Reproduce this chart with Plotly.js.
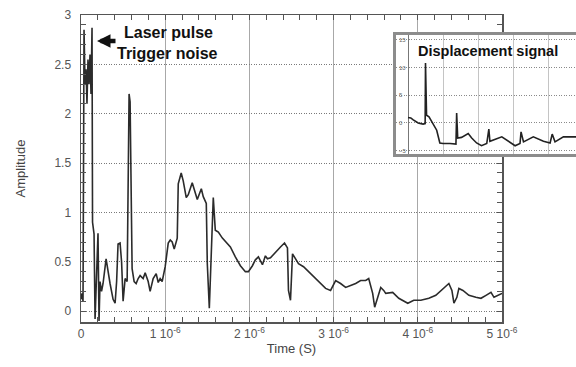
<!DOCTYPE html>
<html>
<head>
<meta charset="utf-8">
<script src="https://cdn.plot.ly/plotly-3.0.1.min.js"></script>
<style>html,body{margin:0;padding:0;background:#fff;}#chart{width:576px;height:367px;}</style>
</head>
<body>
<div id="chart"></div>
<script>
// Main signal: time in microseconds, amplitude
const timeUs = [0,0.012,0.024,0.036,0.048,0.060,0.071,0.083,0.095,0.107,0.119,0.131,0.137,0.149,0.155,0.167,0.179,0.190,0.202,0.214,0.226,0.244,0.262,0.298,0.321,0.345,0.381,0.405,0.423,0.440,0.464,0.482,0.500,0.524,0.548,0.560,0.571,0.583,0.595,0.607,0.631,0.655,0.679,0.702,0.738,0.762,0.798,0.821,0.857,0.893,0.917,0.940,0.964,1.000,1.036,1.060,1.083,1.107,1.143,1.155,1.190,1.214,1.250,1.274,1.321,1.357,1.381,1.429,1.452,1.488,1.500,1.524,1.548,1.571,1.595,1.631,1.679,1.714,1.774,1.833,1.893,1.952,1.988,2.036,2.071,2.107,2.155,2.190,2.214,2.250,2.310,2.369,2.417,2.452,2.464,2.488,2.512,2.536,2.583,2.643,2.702,2.762,2.845,2.905,2.964,3.024,3.083,3.143,3.202,3.262,3.321,3.381,3.417,3.464,3.488,3.524,3.560,3.595,3.619,3.702,3.774,3.881,3.952,4.036,4.131,4.214,4.274,4.333,4.369,4.405,4.429,4.464,4.488,4.536,4.607,4.690,4.750,4.810,4.869,4.905,4.964,5.000];
const amplitude = [0.12,0.18,0.10,2.85,2.30,2.45,2.10,2.55,2.30,2.60,2.20,2.87,0.90,0.80,0.78,-0.08,0.30,0.55,0.79,-0.10,0.30,0.20,0.28,0.53,0.40,0.28,0.12,0.08,0.30,0.68,0.69,0.50,0.10,0.33,0.30,1.20,2.20,2.12,1.47,0.43,0.30,0.28,0.33,0.36,0.33,0.39,0.30,0.20,0.33,0.38,0.29,0.33,0.30,0.45,0.69,0.72,0.70,0.63,0.74,1.29,1.40,1.32,1.15,1.18,1.30,1.19,1.13,1.24,1.16,1.09,0.48,0.03,0.60,1.15,0.82,0.80,0.74,0.71,0.65,0.55,0.46,0.40,0.40,0.46,0.52,0.55,0.47,0.56,0.53,0.54,0.60,0.65,0.69,0.64,0.21,0.11,0.58,0.55,0.48,0.45,0.40,0.35,0.28,0.23,0.21,0.31,0.28,0.24,0.26,0.28,0.31,0.31,0.33,0.18,0.04,0.14,0.24,0.21,0.18,0.19,0.13,0.08,0.11,0.11,0.13,0.16,0.21,0.26,0.28,0.21,0.08,0.14,0.23,0.21,0.16,0.14,0.13,0.16,0.19,0.14,0.16,0.18];

// Inset: displacement signal
const dispX = [0,0.08,0.14,0.29,0.43,0.49,0.50,0.51,0.53,0.60,0.71,0.82,0.91,1.00,1.20,1.37,1.39,1.42,1.53,1.72,1.82,1.96,2.10,2.25,2.31,2.34,2.68,2.91,3.06,3.20,3.23,3.30,3.58,3.87,4.06,4.12,4.20,4.44,4.72,4.80];
const dispY = [1.0,0.9,0.6,0.0,-0.2,-0.1,10.8,8.1,1.4,1.1,0.0,-1.3,-3.6,-3.7,-3.7,-3.8,1.8,-2.7,-2.6,-1.9,-2.7,-3.6,-4.1,-3.7,-1.1,-3.3,-2.5,-3.5,-4.1,-3.7,-1.6,-3.4,-2.5,-3.3,-3.6,-2.0,-3.4,-2.5,-2.4,-2.5];

const xTickVals = [0,1,2,3,4,5];
const xTickText = ['0','1 10<sup>-6</sup>','2 10<sup>-6</sup>','3 10<sup>-6</sup>','4 10<sup>-6</sup>','5 10<sup>-6</sup>'];
const yTickVals = [0,0.5,1,1.5,2,2.5,3];
const yTickText = ['0','0.5','1','1.5','2','2.5','3'];
const insetYTicks = [-5,0,5,10,15];
const insetXGrid = [1,2,3,4];

const traces = [
  {x: timeUs.map(t => t * 1e-6), y: amplitude, type: 'scatter', mode: 'lines',
   line: {color: '#2b2b2b', width: 1.6}, xaxis: 'x', yaxis: 'y', hoverinfo: 'skip'},
  {x: dispX, y: dispY, type: 'scatter', mode: 'lines',
   line: {color: '#222', width: 1.6}, xaxis: 'x2', yaxis: 'y2', hoverinfo: 'skip'}
];

const PW = 495, PH = 307, ML = 81, MT = 15;
function px(v){ return (v - ML) / PW; }
function py(v){ return (MT + PH - v) / PH; }

const layout = {
  width: 576, height: 367,
  margin: {l: ML, r: 0, t: MT, b: 45},
  paper_bgcolor: '#ffffff', plot_bgcolor: '#ffffff',
  showlegend: false,
  font: {family: 'Liberation Sans, Arial, sans-serif', color: '#444', size: 12},
  xaxis: {
    domain: [0, 421/495], range: [0, 5e-6],
    tickvals: xTickVals.map(v => v * 1e-6), ticktext: xTickText,
    ticks: 'inside', ticklen: 5, tickcolor: '#555',
    minor: {dtick: 0.2e-6, ticks: 'inside', ticklen: 5, tickcolor: '#555', showgrid: false},
    showline: true, linecolor: '#555', linewidth: 1.5, mirror: 'ticks',
    showgrid: true, gridcolor: '#a8a8a8', gridwidth: 1, griddash: 'solid',
    zeroline: false, tickfont: {size: 12, color: '#555'},
    title: {text: 'Time (S)', font: {size: 13, color: '#444'}, standoff: 4}
  },
  yaxis: {
    range: [-0.11, 3.0],
    tickvals: yTickVals, ticktext: yTickText,
    ticks: 'inside', ticklen: 5, tickcolor: '#555',
    minor: {dtick: 0.1, ticks: 'inside', ticklen: 5, tickcolor: '#555', showgrid: false},
    showline: true, linecolor: '#555', linewidth: 1.5, mirror: 'ticks',
    showgrid: true, gridcolor: '#7a7a7a', gridwidth: 1, griddash: '1px,1.5px',
    zeroline: false, ticklabelstandoff: 6, tickfont: {size: 12, color: '#555'},
    title: {text: 'Amplitude', font: {size: 13, color: '#444'}, standoff: 26}
  },
  xaxis2: {
    anchor: 'y2', domain: [px(396), 1], range: [-0.343, 4.8],
    tickvals: insetXGrid, showticklabels: false, ticks: '',
    showgrid: true, gridcolor: '#c4c4c4', gridwidth: 1,
    zeroline: true, zerolinecolor: '#777', zerolinewidth: 1, showline: false
  },
  yaxis2: {
    anchor: 'x2', domain: [py(154), py(35)], range: [-5.59, 15.86],
    tickvals: insetYTicks, ticks: '', ticklabelposition: 'inside',
    tickfont: {size: 6, color: '#666'},
    showgrid: true, gridcolor: '#8a8a8a', gridwidth: 1, griddash: '1px,1.5px',
    zeroline: false, showline: false
  },
  shapes: [
    {type: 'rect', xref: 'paper', yref: 'paper', layer: 'above',
     x0: px(394.5), x1: 1.05, y0: py(155.5), y1: py(33.5),
     line: {color: '#8c8c8c', width: 3}, fillcolor: 'rgba(0,0,0,0)'}
  ],
  annotations: [
    {xref: 'paper', yref: 'paper', x: px(97), y: py(41), ax: 20, ay: 0,
     text: '', showarrow: true, arrowhead: 2, arrowsize: 0.6, arrowwidth: 4.5, arrowcolor: '#111'},
    {xref: 'paper', yref: 'paper', x: px(122), y: py(32), xanchor: 'left', yanchor: 'middle',
     text: '<b>Laser pulse</b>', showarrow: false,
     font: {family: 'Liberation Sans, Arial, sans-serif', size: 16, color: '#111'}},
    {xref: 'paper', yref: 'paper', x: px(115), y: py(53), xanchor: 'left', yanchor: 'middle',
     text: '<b>Trigger noise</b>', showarrow: false,
     font: {family: 'Liberation Sans, Arial, sans-serif', size: 16, color: '#111'}},
    {xref: 'paper', yref: 'paper', x: px(416), y: py(51), xanchor: 'left', yanchor: 'middle',
     text: '<b>Displacement signal</b>', showarrow: false,
     font: {family: 'Liberation Sans, Arial, sans-serif', size: 14.5, color: '#111'}}
  ]
};

Plotly.newPlot('chart', traces, layout, {staticPlot: true, displayModeBar: false});
</script>
</body>
</html>
